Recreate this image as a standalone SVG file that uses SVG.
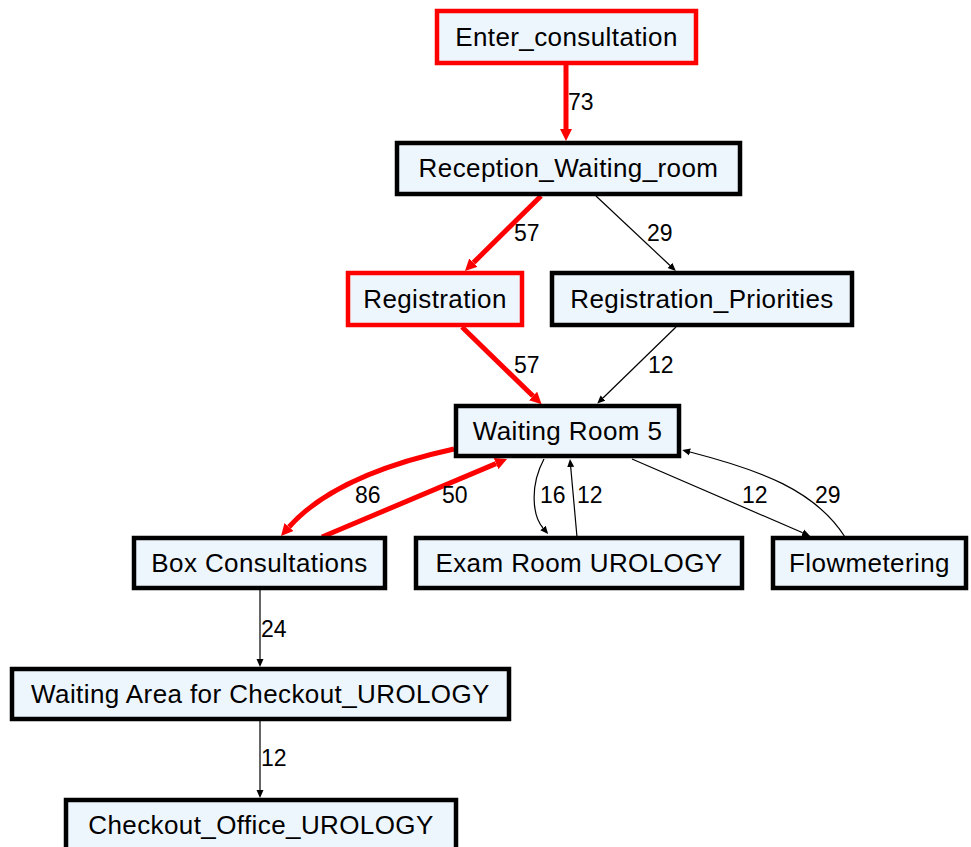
<svg xmlns="http://www.w3.org/2000/svg" width="971" height="847" viewBox="0 0 971 847">
<defs>
<style>
.node rect{fill:#eef6fd;stroke:#000;stroke-width:4.5}
.node.hot rect{stroke:#ff0000}
.node text{font-family:"Liberation Sans",Arial,sans-serif;font-size:26px;letter-spacing:0.4px;fill:#000;text-anchor:middle}
.e{fill:none;stroke:#000;stroke-width:1.2}
.e.hot{stroke:#ff0000;stroke-width:5}
.lbl{font-family:"Liberation Sans",Arial,sans-serif;font-size:23px;fill:#000}
</style>
<marker id="ab" markerUnits="userSpaceOnUse" markerWidth="9" markerHeight="8" refX="0" refY="4" orient="auto"><path d="M0,0.5 L8,4 L0,7.5 z" fill="#000"/></marker>
<marker id="ar" markerUnits="userSpaceOnUse" markerWidth="13" markerHeight="14" refX="0" refY="7" orient="auto"><path d="M0,1 L12,7 L0,13 z" fill="#ff0000"/></marker>
</defs>
<rect width="971" height="847" fill="#fff"/>
<g id="edges">
<path class="e hot" d="M566,65 L566,129" marker-end="url(#ar)"/>
<path class="e hot" d="M541,196 L473.5,262.6" marker-end="url(#ar)"/>
<path class="e" d="M596,196 L670,265.5" marker-end="url(#ab)"/>
<path class="e hot" d="M462,327 L533,396" marker-end="url(#ar)"/>
<path class="e" d="M676,327 L603,398" marker-end="url(#ab)"/>
<path class="e hot" d="M454,449 Q335,475 289,527" marker-end="url(#ar)"/>
<path class="e hot" d="M322,537 L496,463.6" marker-end="url(#ar)"/>
<path class="e" d="M544,459 C530,485 532,515 543,528" marker-end="url(#ab)"/>
<path class="e" d="M577,537 L570.7,467" marker-end="url(#ab)"/>
<path class="e" d="M632,459 L802.7,532.8" marker-end="url(#ab)"/>
<path class="e" d="M845,537 C815,490 760,470 690,452" marker-end="url(#ab)"/>
<path class="e" d="M260,590 L260,659" marker-end="url(#ab)"/>
<path class="e" d="M260,721 L260,790" marker-end="url(#ab)"/>
<text class="lbl" x="568" y="110">73</text>
<text class="lbl" x="514" y="241">57</text>
<text class="lbl" x="647" y="241">29</text>
<text class="lbl" x="514" y="373">57</text>
<text class="lbl" x="648" y="373">12</text>
<text class="lbl" x="355" y="503">86</text>
<text class="lbl" x="442" y="503">50</text>
<text class="lbl" x="540" y="503">16</text>
<text class="lbl" x="577" y="503">12</text>
<text class="lbl" x="742" y="503">12</text>
<text class="lbl" x="815" y="503">29</text>
<text class="lbl" x="261" y="637">24</text>
<text class="lbl" x="261" y="766">12</text>
</g>
<g id="n_enter" class="node hot"><rect x="437" y="11" width="259" height="52"/><text x="566.5" y="46">Enter_consultation</text></g>
<g id="n_reception" class="node"><rect x="397" y="143" width="343" height="51"/><text x="568.5" y="177">Reception_Waiting_room</text></g>
<g id="n_registration" class="node hot"><rect x="348" y="273" width="174" height="52"/><text x="435" y="308">Registration</text></g>
<g id="n_regprio" class="node"><rect x="552" y="273" width="300" height="52"/><text x="702" y="308">Registration_Priorities</text></g>
<g id="n_wr5" class="node"><rect x="456" y="406" width="223" height="50"/><text x="567.5" y="440">Waiting Room 5</text></g>
<g id="n_box" class="node"><rect x="134" y="538" width="251" height="50"/><text x="259.5" y="572">Box Consultations</text></g>
<g id="n_exam" class="node"><rect x="416" y="538" width="326" height="50"/><text x="579" y="572">Exam Room UROLOGY</text></g>
<g id="n_flow" class="node"><rect x="773" y="538" width="193" height="50"/><text x="869.5" y="572">Flowmetering</text></g>
<g id="n_waitarea" class="node"><rect x="12" y="669" width="497" height="50"/><text x="260.5" y="703">Waiting Area for Checkout_UROLOGY</text></g>
<g id="n_checkout" class="node"><rect x="66" y="800" width="390" height="60"/><text x="261" y="834">Checkout_Office_UROLOGY</text></g>
</svg>
